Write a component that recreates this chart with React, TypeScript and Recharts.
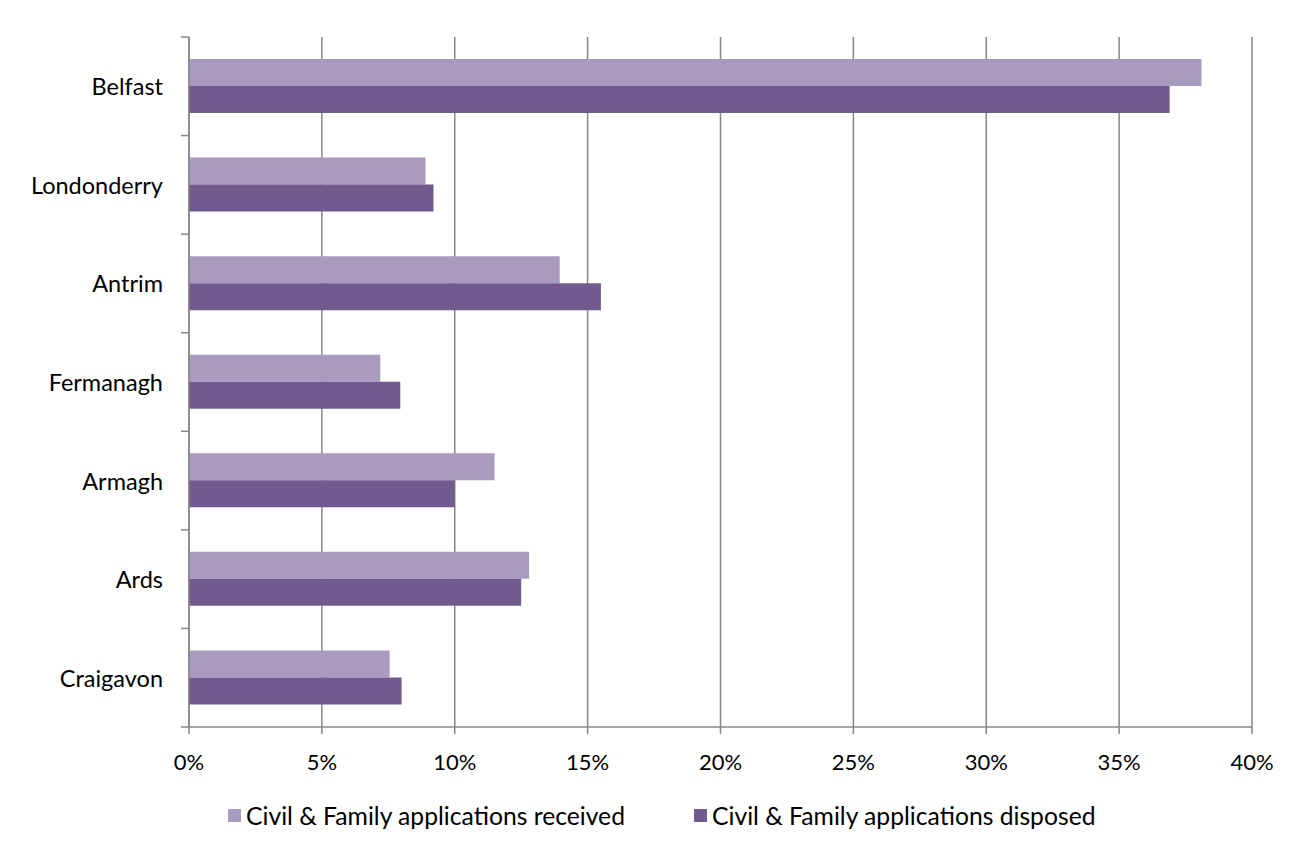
import React from 'react';
import { BarChart, Bar, XAxis, YAxis, CartesianGrid } from 'recharts';

// Share of Civil & Family applications by court division (%)
const divisions = ['Belfast', 'Londonderry', 'Antrim', 'Fermanagh', 'Armagh', 'Ards', 'Craigavon'];
const received = [38.1, 8.9, 13.95, 7.2, 11.5, 12.8, 7.55];
const disposed = [36.9, 9.2, 15.5, 7.95, 10.0, 12.5, 8.0];
const xTicks = [0, 5, 10, 15, 20, 25, 30, 35, 40];

const data = divisions.map((name, i) => ({ name, received: received[i], disposed: disposed[i] }));

const LIGHT = '#a99bbf';
const DARK = '#715a8e';
const AXIS = '#878787';

const W = 1309;
const H = 852;
const M = { top: 37, right: 57, bottom: 85, left: 20 };
const Y_W = 169;
const X_H = 40;
const PLOT_LEFT = M.left + Y_W;
const BAND = (H - M.top - M.bottom - X_H) / divisions.length;

// category label plus tick marks on the band edges (Excel style)
const CategoryTick = (props: any) => {
    const { y, payload, index } = props;
    return (
        <g>
            <text x={PLOT_LEFT - 26} y={y} textAnchor="end" dominantBaseline="central" fill="#000" fontSize={23.5}>
                {payload.value}
            </text>
            <line x1={PLOT_LEFT - 8} x2={PLOT_LEFT} y1={y - BAND / 2} y2={y - BAND / 2} stroke={AXIS} strokeWidth={1.5} />
            {index === divisions.length - 1 && (
                <line x1={PLOT_LEFT - 8} x2={PLOT_LEFT} y1={y + BAND / 2} y2={y + BAND / 2} stroke={AXIS} strokeWidth={1.5} />
            )}
        </g>
    );
};

const LegendItem = ({ color, label }: { color: string; label: string }) => (
    <div style={{ display: 'flex', alignItems: 'center', gap: 5 }}>
        <div style={{ width: 13, height: 13, background: color }} />
        <span>{label}</span>
    </div>
);

export default function App() {
    return (
        <div style={{ position: 'relative', margin: -8, width: W, height: H, overflow: 'hidden', fontFamily: 'Lato', background: '#fff' }}>
            <div style={{ position: 'absolute', left: 6, top: 6, width: 1301, height: 900, border: `2px solid ${AXIS}`, boxSizing: 'border-box' }} />
            <BarChart
                width={W}
                height={H}
                data={data}
                layout="vertical"
                margin={M}
                barSize={27}
                barGap={0}
            >
                <CartesianGrid horizontal={false} stroke={AXIS} strokeWidth={1.5} />
                <XAxis
                    type="number"
                    domain={[0, 40]}
                    ticks={xTicks}
                    tickFormatter={(v) => `${v}%`}
                    height={X_H}
                    axisLine={{ stroke: AXIS, strokeWidth: 1.5 }}
                    tickLine={{ stroke: AXIS, strokeWidth: 1.5 }}
                    tickSize={7}
                    tickMargin={20}
                    tick={{ fill: '#000', fontSize: 22 }}
                />
                <YAxis
                    type="category"
                    dataKey="name"
                    width={Y_W}
                    axisLine={{ stroke: AXIS, strokeWidth: 1.5 }}
                    tickLine={false}
                    tick={<CategoryTick />}
                    interval={0}
                />
                <Bar dataKey="received" fill={LIGHT} isAnimationActive={false} />
                <Bar dataKey="disposed" fill={DARK} isAnimationActive={false} />
            </BarChart>
            <div style={{ position: 'absolute', top: 801, left: 228, display: 'flex', gap: 69, fontSize: 24.7, color: '#000', whiteSpace: 'nowrap' }}>
                <LegendItem color={LIGHT} label="Civil & Family applications received" />
                <LegendItem color={DARK} label="Civil & Family applications disposed" />
            </div>
        </div>
    );
}
